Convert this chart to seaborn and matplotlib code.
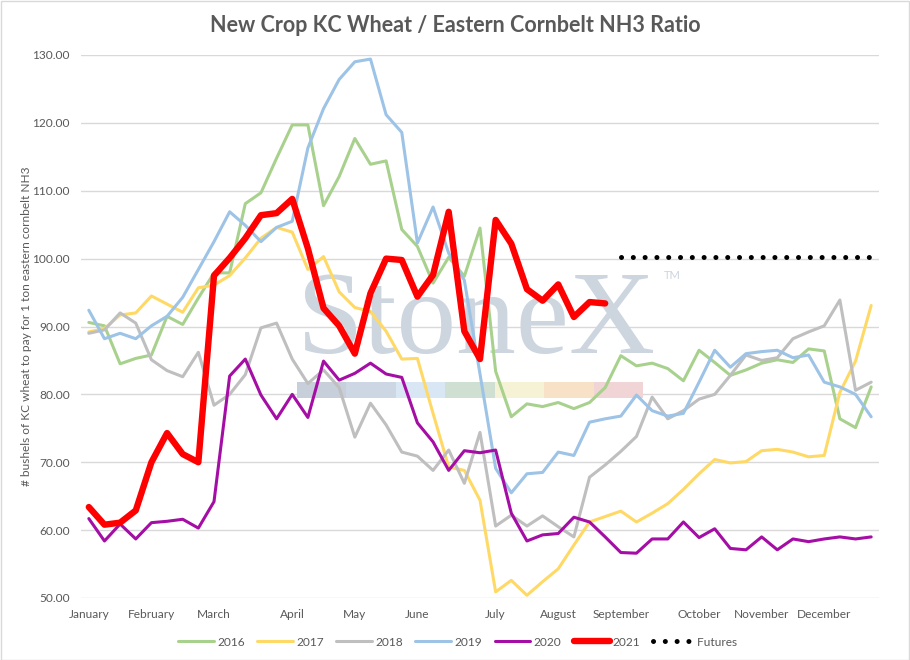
import numpy as np
import pandas as pd
import matplotlib
matplotlib.use("Agg")
import matplotlib.pyplot as plt
from matplotlib.patches import Rectangle
import seaborn as sns

# ---------------- data ----------------
weeks = list(range(51))
month_labels = ["January", "February", "March", "April", "May", "June", "July",
                "August", "September", "October", "November", "December"]
month_weeks = [0, 4, 8, 13, 17, 21, 26, 30, 34, 39, 43, 47]

s2016 = [90.6, 90.1, 84.5, 85.3, 85.8, 91.5, 90.3, 94.2, 97.9, 97.9,
         108.1, 109.7, 114.8, 119.7, 119.7, 107.8, 112.1, 117.7, 113.9, 114.4,
         104.3, 101.8, 96.4, 100.2, 97.4, 104.5, 83.4, 76.7, 78.6, 78.2,
         78.8, 77.9, 78.8, 81.0, 85.7, 84.2, 84.6, 83.8, 82.0, 86.5,
         84.7, 82.8, 83.6, 84.6, 85.1, 84.7, 86.7, 86.4, 76.4, 75.1, 81.1]
s2017 = [89.2, 89.7, 91.7, 92.0, 94.5, 93.3, 92.1, 95.7, 96.1, 97.5,
         100.1, 103.0, 104.6, 103.9, 98.4, 100.3, 95.1, 92.8, 92.2, 89.3,
         85.2, 85.3, 77.2, 69.3, 68.8, 64.4, 50.9, 52.6, 50.4, 52.4,
         54.3, 57.8, 61.2, 62.0, 62.8, 61.2, 62.5, 63.9, 66.0, 68.3,
         70.4, 69.9, 70.1, 71.7, 71.9, 71.5, 70.8, 71.0, 80.3, 84.9, 93.1]
s2018 = [89.0, 89.5, 92.0, 90.5, 85.1, 83.5, 82.6, 86.2, 78.4, 80.0,
         82.9, 89.8, 90.5, 85.2, 81.6, 83.6, 81.0, 73.7, 78.7, 75.5,
         71.5, 70.9, 68.8, 71.8, 66.9, 74.4, 60.6, 62.2, 60.6, 62.1,
         60.5, 59.0, 67.8, 69.6, 71.6, 73.8, 79.6, 76.4, 77.6, 79.3,
         80.0, 82.8, 85.8, 85.0, 85.4, 88.2, 89.2, 90.1, 93.9, 80.6, 81.8]
s2019 = [92.4, 88.2, 89.0, 88.2, 90.1, 91.5, 94.3, 98.4, 102.5, 106.9,
         104.9, 102.5, 104.6, 105.5, 116.3, 122.1, 126.4, 129.0, 129.4, 121.2,
         118.6, 102.3, 107.6, 100.8, 96.8, 83.0, 69.1, 65.5, 68.3, 68.5,
         71.5, 71.0, 75.9, 76.4, 76.8, 79.9, 77.6, 76.8, 77.2, 81.8,
         86.5, 84.0, 86.0, 86.3, 86.5, 85.4, 85.8, 81.8, 81.1, 80.0, 76.7]
s2020 = [61.7, 58.4, 60.9, 58.7, 61.1, 61.3, 61.6, 60.3, 64.2, 82.7,
         85.2, 79.9, 76.4, 80.0, 76.6, 84.9, 82.1, 83.1, 84.6, 83.0,
         82.5, 75.8, 73.0, 68.8, 71.7, 71.4, 71.8, 62.5, 58.4, 59.3,
         59.5, 61.9, 61.2, 59.0, 56.7, 56.6, 58.7, 58.7, 61.2, 58.9,
         60.2, 57.3, 57.1, 59.0, 57.1, 58.7, 58.3, 58.7, 59.0, 58.7, 59.0]
s2021 = [63.4, 60.8, 61.1, 62.9, 70.0, 74.3, 71.2, 70.0, 97.5, 100.1,
         103.0, 106.4, 106.7, 108.8, 101.5, 92.7, 90.1, 86.0, 94.9, 100.0,
         99.8, 94.4, 97.6, 106.9, 89.3, 85.2, 105.7, 102.2, 95.5, 93.8,
         96.2, 91.4, 93.6, 93.4] + [np.nan] * 17
futures = [np.nan] * 34 + [100.3] * 17

series_names = ["2016", "2017", "2018", "2019", "2020", "2021", "Futures"]
series_values = [s2016, s2017, s2018, s2019, s2020, s2021, futures]

df = pd.DataFrame({"week": weeks})
for name, vals in zip(series_names, series_values):
    df[name] = vals

# ---------------- style ----------------
sns.set_theme(style="white")
plt.rcParams["font.family"] = ["Lato", "DejaVu Sans"]
txt_col = "#595959"
grid_col = "#d9d9d9"

colors = {"2016": "#a9d18e", "2017": "#ffd966", "2018": "#bfbfbf",
          "2019": "#9dc3e6", "2020": "#a50ea5", "2021": "#ff0000",
          "Futures": "#000000"}
widths = {"2016": 2.2, "2017": 2.2, "2018": 2.2, "2019": 2.2,
          "2020": 2.2, "2021": 4.6, "Futures": 3.6}

W, H = 910, 660
fig = plt.figure(figsize=(W / 100, H / 100), dpi=100)
fig.patch.set_facecolor("white")
ax = fig.add_axes([81 / W, 1 - 598 / H, (879 - 81) / W, (598 - 55) / H])

# watermark
ax.text((297 - 81) / 798, (598 - 353) / 543, "StoneX", transform=ax.transAxes,
        fontsize=86, family=["Liberation Serif", "DejaVu Serif"], color="#cdd5df",
        ha="left", va="baseline", zorder=1)
fig.text(664 / W, 1 - 275 / H, "TM", fontsize=8, color="#cdd5df",
         ha="left", va="center")
bar_cols = ["#c7cfda", "#ccd7e3", "#d8e7f3", "#cfe0d2", "#f6f2d6", "#f7e2c8", "#f1d4d5"]
seg = (643 - 297) / 7
for k, c in enumerate(bar_cols):
    ax.add_patch(Rectangle(((297 + k * seg - 81) / 798, (598 - 398) / 543),
                           seg / 798, 16 / 543, transform=ax.transAxes,
                           facecolor=c, edgecolor="none", zorder=1))

for name in series_names:
    kw = dict(color=colors[name], linewidth=widths[name], label=name, ax=ax, zorder=3)
    if name == "Futures":
        kw.update(linestyle=(0, (0.01, 2.35)), dash_capstyle="round")
    else:
        kw.update(solid_joinstyle="round", solid_capstyle="round")
    sns.lineplot(data=df, x="week", y=name, **kw)

ax.set_xlim(-0.5, 50.5)
ax.set_ylim(50, 130)
ax.set_yticks(np.arange(50, 131, 10))
ax.set_yticklabels([f"{v:.2f}" for v in np.arange(50, 131, 10)])
ax.set_xticks(month_weeks)
ax.set_xticklabels(month_labels)
ax.tick_params(axis="both", length=0, labelsize=8.6, colors=txt_col)
ax.tick_params(axis="y", pad=8)
ax.tick_params(axis="x", pad=8)
ax.grid(axis="y", color=grid_col, linewidth=1.0)
ax.grid(axis="x", visible=False)
ax.set_axisbelow(True)
for sp in ax.spines.values():
    sp.set_visible(False)
ax.set_xlabel("")
ax.set_ylabel("# bushels of KC wheat to pay for 1 ton eastern cornbelt NH3",
              fontsize=8.6, color=txt_col, va="center")
ax.yaxis.set_label_coords((27 - 81) / 798, 0.5)

fig.text(455 / W, 1 - 25 / H, "New Crop KC Wheat / Eastern Cornbelt NH3 Ratio",
         fontsize=15.5, fontweight="bold", color=txt_col, ha="center", va="center")

handles, labels = ax.get_legend_handles_labels()
labels = [l if l != "Futures" else "  Futures" for l in labels]
leg = ax.legend(handles, labels, loc="center", bbox_to_anchor=(458 / W, 1 - 642 / H),
                bbox_transform=fig.transFigure, ncol=7, frameon=False,
                fontsize=8.6, handlelength=3.0, handletextpad=0.25,
                columnspacing=1.05, labelcolor=txt_col)

fig.add_artist(Rectangle((0.5 / W, 0.5 / H), 1 - 1.5 / W, 1 - 1.5 / H,
                         transform=fig.transFigure, fill=False,
                         edgecolor="#d9d9d9", linewidth=1.0))

fig.savefig("out.png", dpi=100)
